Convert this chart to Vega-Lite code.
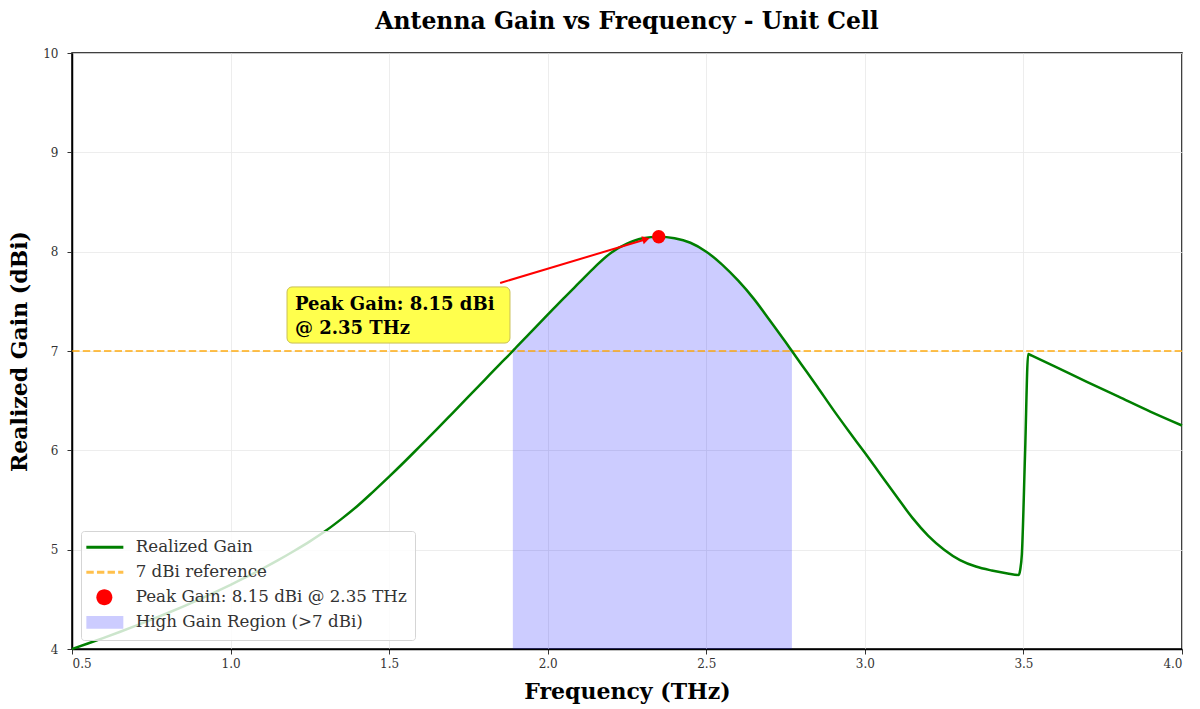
{
  "$schema": "https://vega.github.io/schema/vega-lite/v6.json",
  "width": 1110,
  "height": 596,
  "autosize": {"type": "none"},
  "padding": {"left": 72, "top": 53, "right": 18, "bottom": 60},
  "background": "white",
  "title": {
    "text": "Antenna Gain vs Frequency - Unit Cell",
    "font": "DejaVu Serif",
    "fontSize": 23.5,
    "fontWeight": "bold",
    "color": "black",
    "offset": 14,
    "anchor": "middle"
  },
  "config": {
    "view": {"stroke": "black", "strokeWidth": 1.5},
    "axis": {
      "labelFont": "DejaVu Serif",
      "labelFontSize": 12,
      "labelColor": "#333333",
      "titleFont": "DejaVu Serif",
      "titleFontSize": 22,
      "titleFontWeight": "bold",
      "titleColor": "black",
      "domainColor": "black",
      "domainWidth": 1.5,
      "tickColor": "#333333",
      "tickSize": 5,
      "grid": true,
      "gridColor": "#e8e8e8",
      "gridWidth": 0.8
    }
  },
  "datasets": {
    "gain": [
      {"f": 0.50, "g": 4.000}, {"f": 0.55, "g": 4.055}, {"f": 0.60, "g": 4.112}, {"f": 0.65, "g": 4.171},
      {"f": 0.70, "g": 4.232}, {"f": 0.75, "g": 4.295}, {"f": 0.80, "g": 4.360}, {"f": 0.85, "g": 4.427},
      {"f": 0.90, "g": 4.497}, {"f": 0.95, "g": 4.570}, {"f": 1.00, "g": 4.646}, {"f": 1.05, "g": 4.725},
      {"f": 1.10, "g": 4.808}, {"f": 1.15, "g": 4.895}, {"f": 1.20, "g": 4.987}, {"f": 1.25, "g": 5.084},
      {"f": 1.30, "g": 5.190}, {"f": 1.35, "g": 5.310}, {"f": 1.40, "g": 5.440}, {"f": 1.45, "g": 5.585},
      {"f": 1.50, "g": 5.735}, {"f": 1.55, "g": 5.890}, {"f": 1.60, "g": 6.050}, {"f": 1.65, "g": 6.210},
      {"f": 1.70, "g": 6.375}, {"f": 1.75, "g": 6.540}, {"f": 1.80, "g": 6.705}, {"f": 1.85, "g": 6.870},
      {"f": 1.89, "g": 7.000}, {"f": 1.90, "g": 7.035}, {"f": 1.95, "g": 7.200}, {"f": 2.00, "g": 7.365},
      {"f": 2.05, "g": 7.530}, {"f": 2.10, "g": 7.690}, {"f": 2.15, "g": 7.850}, {"f": 2.20, "g": 7.990},
      {"f": 2.25, "g": 8.080}, {"f": 2.30, "g": 8.135}, {"f": 2.35, "g": 8.150}, {"f": 2.40, "g": 8.135},
      {"f": 2.45, "g": 8.090}, {"f": 2.50, "g": 8.000}, {"f": 2.55, "g": 7.870}, {"f": 2.60, "g": 7.710},
      {"f": 2.65, "g": 7.525}, {"f": 2.70, "g": 7.310}, {"f": 2.75, "g": 7.090}, {"f": 2.77, "g": 7.000},
      {"f": 2.80, "g": 6.865}, {"f": 2.85, "g": 6.640}, {"f": 2.90, "g": 6.410}, {"f": 2.95, "g": 6.190},
      {"f": 3.00, "g": 5.975}, {"f": 3.05, "g": 5.755}, {"f": 3.10, "g": 5.535}, {"f": 3.15, "g": 5.320},
      {"f": 3.20, "g": 5.140}, {"f": 3.25, "g": 5.000}, {"f": 3.30, "g": 4.895}, {"f": 3.35, "g": 4.830},
      {"f": 3.40, "g": 4.790}, {"f": 3.45, "g": 4.760}, {"f": 3.485, "g": 4.745}, {"f": 3.49, "g": 4.800},
      {"f": 3.495, "g": 4.950}, {"f": 3.505, "g": 5.950}, {"f": 3.515, "g": 6.970}, {"f": 3.525, "g": 6.955},
      {"f": 3.60, "g": 6.842}, {"f": 3.70, "g": 6.690}, {"f": 3.80, "g": 6.540}, {"f": 3.90, "g": 6.390},
      {"f": 4.00, "g": 6.250}
    ]
  },
  "layer": [
    {
      "data": {"name": "gain"},
      "transform": [{"filter": "datum.f >= 1.89 && datum.f <= 2.77"}],
      "mark": {"type": "area", "opacity": 1, "interpolate": "monotone"},
      "encoding": {
        "x": {
          "field": "f", "type": "quantitative",
          "scale": {"domain": [0.5, 4.0], "nice": false, "zero": false},
          "axis": {"title": "Frequency (THz)", "values": [0.5, 1.0, 1.5, 2.0, 2.5, 3.0, 3.5, 4.0], "format": ".1f", "labelPadding": 4, "titlePadding": 12}
        },
        "y": {
          "field": "g", "type": "quantitative",
          "scale": {"domain": [4, 10], "nice": false, "zero": false},
          "axis": {"title": "Realized Gain (dBi)", "values": [4, 5, 6, 7, 8, 9, 10], "format": "d", "labelPadding": 9, "titlePadding": 11}
        },
        "y2": {"datum": 4},
        "color": {
          "datum": "High Gain Region (>7 dBi)",
          "type": "nominal",
          "scale": {
            "domain": ["Realized Gain", "7 dBi reference", "Peak Gain: 8.15 dBi @ 2.35 THz", "High Gain Region (>7 dBi)"],
            "range": ["#007f00", "rgba(255,165,0,0.7)", "red", "rgba(0,0,255,0.2)"]
          },
          "legend": {
            "title": null,
            "orient": "bottom-left",
            "offset": 9,
            "zindex": 1,
            "fillColor": "rgba(255,255,255,0.8)",
            "strokeColor": "#d5d5d5",
            "cornerRadius": 3,
            "padding": 8,
            "rowPadding": 7,
            "labelFont": "DejaVu Serif",
            "labelFontSize": 16.7,
            "labelColor": "#333333",
            "labelLimit": 0,
            "labelOffset": 30,
            "symbolSize": 256,
            "symbolType": {"expr": "datum.index == 2 ? 'M-0.125,0A1,1 0 1,0 1.875,0A1,1 0 1,0 -0.125,0Z' : datum.index == 3 ? 'M-1.375,-0.8H3.25V0.8H-1.375Z' : 'M-1.375,0H3.25'"},
            "symbolStrokeColor": {"expr": "datum.index == 0 ? '#007f00' : datum.index == 1 ? 'rgba(255,165,0,0.7)' : 'transparent'"},
            "symbolStrokeWidth": {"expr": "datum.index <= 1 ? 3 : 0"},
            "symbolDash": {"expr": "datum.index == 1 ? [7.4, 3.2] : []"},
            "symbolOpacity": 1
          }
        }
      }
    },
    {
      "data": {"values": [{"ref": 7}]},
      "mark": {"type": "rule", "strokeDash": [7.4, 3.2], "strokeWidth": 2, "opacity": 1},
      "encoding": {
        "y": {"field": "ref", "type": "quantitative"},
        "color": {"datum": "7 dBi reference", "type": "nominal"}
      }
    },
    {
      "data": {"name": "gain"},
      "mark": {"type": "line", "strokeWidth": 2.5, "interpolate": "monotone"},
      "encoding": {
        "x": {"field": "f", "type": "quantitative"},
        "y": {"field": "g", "type": "quantitative"},
        "color": {"datum": "Realized Gain", "type": "nominal"}
      }
    },
    {
      "data": {"values": [{"f": 2.35, "g": 8.15}]},
      "mark": {"type": "point", "filled": true, "size": 180, "opacity": 1},
      "encoding": {
        "x": {"field": "f", "type": "quantitative"},
        "y": {"field": "g", "type": "quantitative"},
        "color": {"datum": "Peak Gain: 8.15 dBi @ 2.35 THz", "type": "nominal"}
      }
    },
    {
      "data": {"values": [{"fa": 1.85, "ga": 7.685, "fb": 2.31, "gb": 8.125}]},
      "mark": {"type": "rule", "color": "red", "strokeWidth": 2},
      "encoding": {
        "x": {"field": "fa", "type": "quantitative"},
        "y": {"field": "ga", "type": "quantitative"},
        "x2": {"field": "fb"},
        "y2": {"field": "gb"}
      }
    },
    {
      "data": {"values": [{"f": 2.31, "g": 8.125}]},
      "mark": {"type": "point", "shape": "triangle-right", "filled": true, "color": "red", "size": 70, "angle": 344, "opacity": 1},
      "encoding": {
        "x": {"field": "f", "type": "quantitative"},
        "y": {"field": "g", "type": "quantitative"}
      }
    },
    {
      "data": {"values": [{"x1": 1.178, "x2": 1.881, "y1": 7.08, "y2": 7.645}]},
      "mark": {"type": "rect", "fill": "#ffff4d", "stroke": "#c9bf55", "strokeWidth": 1, "cornerRadius": 5, "opacity": 1},
      "encoding": {
        "x": {"field": "x1", "type": "quantitative"},
        "x2": {"field": "x2"},
        "y": {"field": "y1", "type": "quantitative"},
        "y2": {"field": "y2"}
      }
    },
    {
      "data": {"values": [{"f": 1.203, "g": 7.41, "t": "Peak Gain: 8.15 dBi"}, {"f": 1.203, "g": 7.17, "t": "@ 2.35 THz"}]},
      "mark": {"type": "text", "align": "left", "baseline": "alphabetic", "font": "DejaVu Serif", "fontSize": 18, "fontWeight": "bold", "color": "black"},
      "encoding": {
        "x": {"field": "f", "type": "quantitative"},
        "y": {"field": "g", "type": "quantitative"},
        "text": {"field": "t"}
      }
    }
  ]
}
